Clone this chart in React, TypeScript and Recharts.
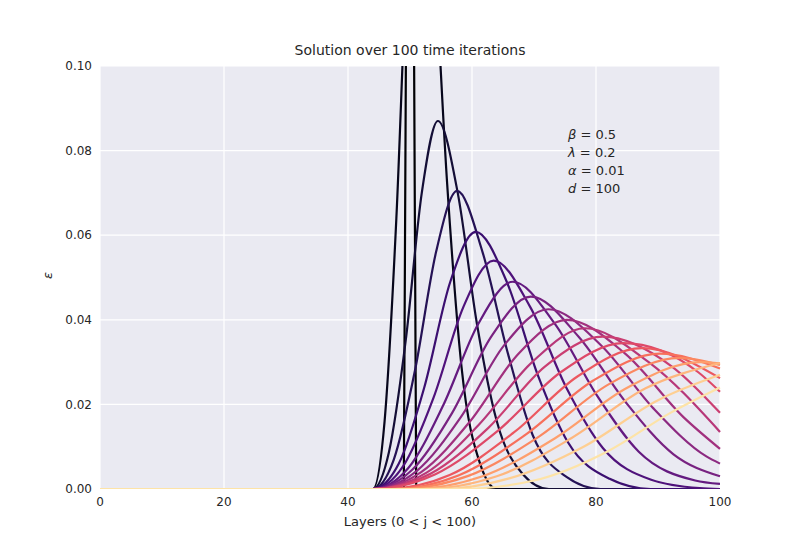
import React from 'react';
import { LineChart, Line, XAxis, YAxis, CartesianGrid } from 'recharts';

// x positions of the layers, one [x, y] list per iteration curve
const curves: number[][][] = [
  [[0, 0], [49, 0], [50, 0.3], [51, 0], [100, 0]],
  [[0, 0], [44, 0], [45.9, 0.016], [47.8, 0.064], [49.6, 0.128], [51.5, 0.16], [53.8, 0.128], [56, 0.072], [58.3, 0.029], [61.3, 0.006], [64, 0], [100, 0]],
  [[0, 0], [44, 0], [46.6, 0.0087], [49.3, 0.035], [51.9, 0.07], [54.5, 0.087], [57.7, 0.07], [60.8, 0.039], [64, 0.016], [68.2, 0.0035], [72.4, 0], [100, 0]],
  [[0, 0], [44, 0], [47.4, 0.007], [50.8, 0.028], [54.2, 0.056], [57.6, 0.0705], [61.7, 0.056], [65.8, 0.032], [69.8, 0.0127], [75.3, 0.0028], [80.7, 0], [100, 0]],
  [[0, 0], [44, 0], [48.2, 0.006], [52.3, 0.024], [56.5, 0.049], [60.6, 0.0608], [65.6, 0.049], [70.6, 0.027], [75.5, 0.011], [82.2, 0.0024], [88.8, 0], [100, 0]],
  [[0, 0], [44, 0], [48.9, 0.0054], [53.8, 0.0216], [58.6, 0.043], [63.5, 0.054], [69.4, 0.043], [75.2, 0.024], [81.1, 0.0097], [88.9, 0.0022], [96.7, 0.0002], [100, 0]],
  [[0, 0], [44, 0], [49.7, 0.0049], [55.3, 0.0196], [61, 0.039], [66.6, 0.049], [73.4, 0.039], [80.2, 0.022], [86.9, 0.0088], [96, 0.002], [100, 0.0012]],
  [[0, 0], [44, 0], [50.4, 0.0046], [56.8, 0.018], [63.1, 0.036], [69.5, 0.0455], [77.2, 0.036], [84.8, 0.0205], [92.5, 0.0082], [100, 0.003]],
  [[0, 0], [44, 0], [51.1, 0.0043], [58.2, 0.017], [65.2, 0.034], [72.3, 0.0425], [80.8, 0.034], [89.3, 0.019], [97.8, 0.0077], [100, 0.006]],
  [[0, 0], [44, 0], [51.8, 0.004], [59.7, 0.016], [67.5, 0.032], [75.3, 0.04], [84.7, 0.032], [94.1, 0.017], [100, 0.0095]],
  [[0, 0], [44, 0], [52.6, 0.0038], [61.1, 0.0152], [69.7, 0.03], [78.2, 0.038], [88.5, 0.03], [100, 0.0135]],
  [[0, 0], [44, 0], [53.3, 0.0036], [62.6, 0.0144], [71.8, 0.029], [81.1, 0.036], [92.2, 0.029], [100, 0.018]],
  [[0, 0], [44, 0], [54.1, 0.0035], [64.2, 0.0138], [74.3, 0.0276], [84.4, 0.0345], [96.5, 0.0276], [100, 0.023]],
  [[0, 0], [46, 0], [56.4, 0.0033], [66.7, 0.0133], [77, 0.0266], [87.4, 0.0333], [100, 0.0262]],
  [[0, 0], [47, 0], [57.8, 0.0032], [68.6, 0.0128], [79.5, 0.0256], [90.3, 0.032], [100, 0.0285]],
  [[0, 0], [48, 0], [59.4, 0.0031], [70.8, 0.0124], [82.1, 0.0248], [93.5, 0.031], [100, 0.0293]],
  [[0, 0], [50, 0], [61.7, 0.003], [73.4, 0.012], [85.1, 0.024], [96.8, 0.03], [100, 0.0297]],
  [[0, 0], [52, 0], [64, 0.003], [76, 0.012], [88, 0.0238], [100, 0.0298]],
  [[0, 0], [55, 0], [66, 0.0025], [78, 0.01], [90, 0.021], [100, 0.027]],
  [[0, 0], [58, 0], [70, 0.002], [82, 0.009], [92, 0.018], [100, 0.024]],
];

const colors = [
  '#000004', '#07061c', '#140e36', '#251255', '#3b0f70', '#4f127b', '#641a80', '#782281',
  '#8c2981', '#a1307e', '#b73779', '#ca3e72', '#de4968', '#ec5860', '#f7705c', '#fb8861',
  '#fe9f6d', '#feb77e', '#fecf92', '#fde3a7',
];

const xTicks = [0, 20, 40, 60, 80, 100];
const yTicks = [0, 0.02, 0.04, 0.06, 0.08, 0.1];
const params = [['β', '0.5'], ['λ', '0.2'], ['α', '0.01'], ['d', '100']];

const tickStyle = { fill: '#262626', fontSize: 12, fontFamily: 'DejaVu Sans' };

export default function App() {
  return (
    <div style={{ position: 'absolute', left: 0, top: 0, width: 800, height: 550, background: '#fff', fontFamily: 'DejaVu Sans' }}>
      <LineChart width={800} height={550} margin={{ top: 66, right: 80, bottom: 0, left: 0 }}>
        <CartesianGrid fill="#eaeaf2" stroke="#ffffff" strokeWidth={1.2} horizontalValues={yTicks} verticalValues={xTicks} />
        <XAxis type="number" dataKey="x" domain={[0, 100]} ticks={xTicks} axisLine={false} tickLine={false}
          tick={tickStyle} height={61} allowDuplicatedCategory={false} />
        <YAxis type="number" domain={[0, 0.1]} ticks={yTicks} allowDataOverflow axisLine={false} tickLine={false}
          tick={tickStyle} width={100} tickFormatter={(v: number) => v.toFixed(2)} />
        {curves.map((c, i) => (
          <Line key={i} data={c.map(([x, y]) => ({ x, y }))} dataKey="y" type={i === 0 ? 'linear' : 'monotone'}
            stroke={colors[i]} strokeWidth={2.2} dot={false} isAnimationActive={false} />
        ))}
      </LineChart>
      <div style={{ position: 'absolute', top: 42, left: 100, width: 620, textAlign: 'center', fontSize: 14, color: '#262626' }}>
        Solution over 100 time iterations
      </div>
      <div style={{ position: 'absolute', top: 514, left: 100, width: 620, textAlign: 'center', fontSize: 13, color: '#262626' }}>
        Layers (0 &lt; j &lt; 100)
      </div>
      <div style={{ position: 'absolute', top: 268, left: 44, fontSize: 13, fontStyle: 'italic', color: '#262626', transform: 'rotate(-90deg)' }}>ε</div>
      <div style={{ position: 'absolute', top: 126, left: 568, fontSize: 13, lineHeight: '18px', color: '#262626' }}>
        {params.map(([s, v]) => <div key={s}><i>{s}</i> = {v}</div>)}
      </div>
    </div>
  );
}
